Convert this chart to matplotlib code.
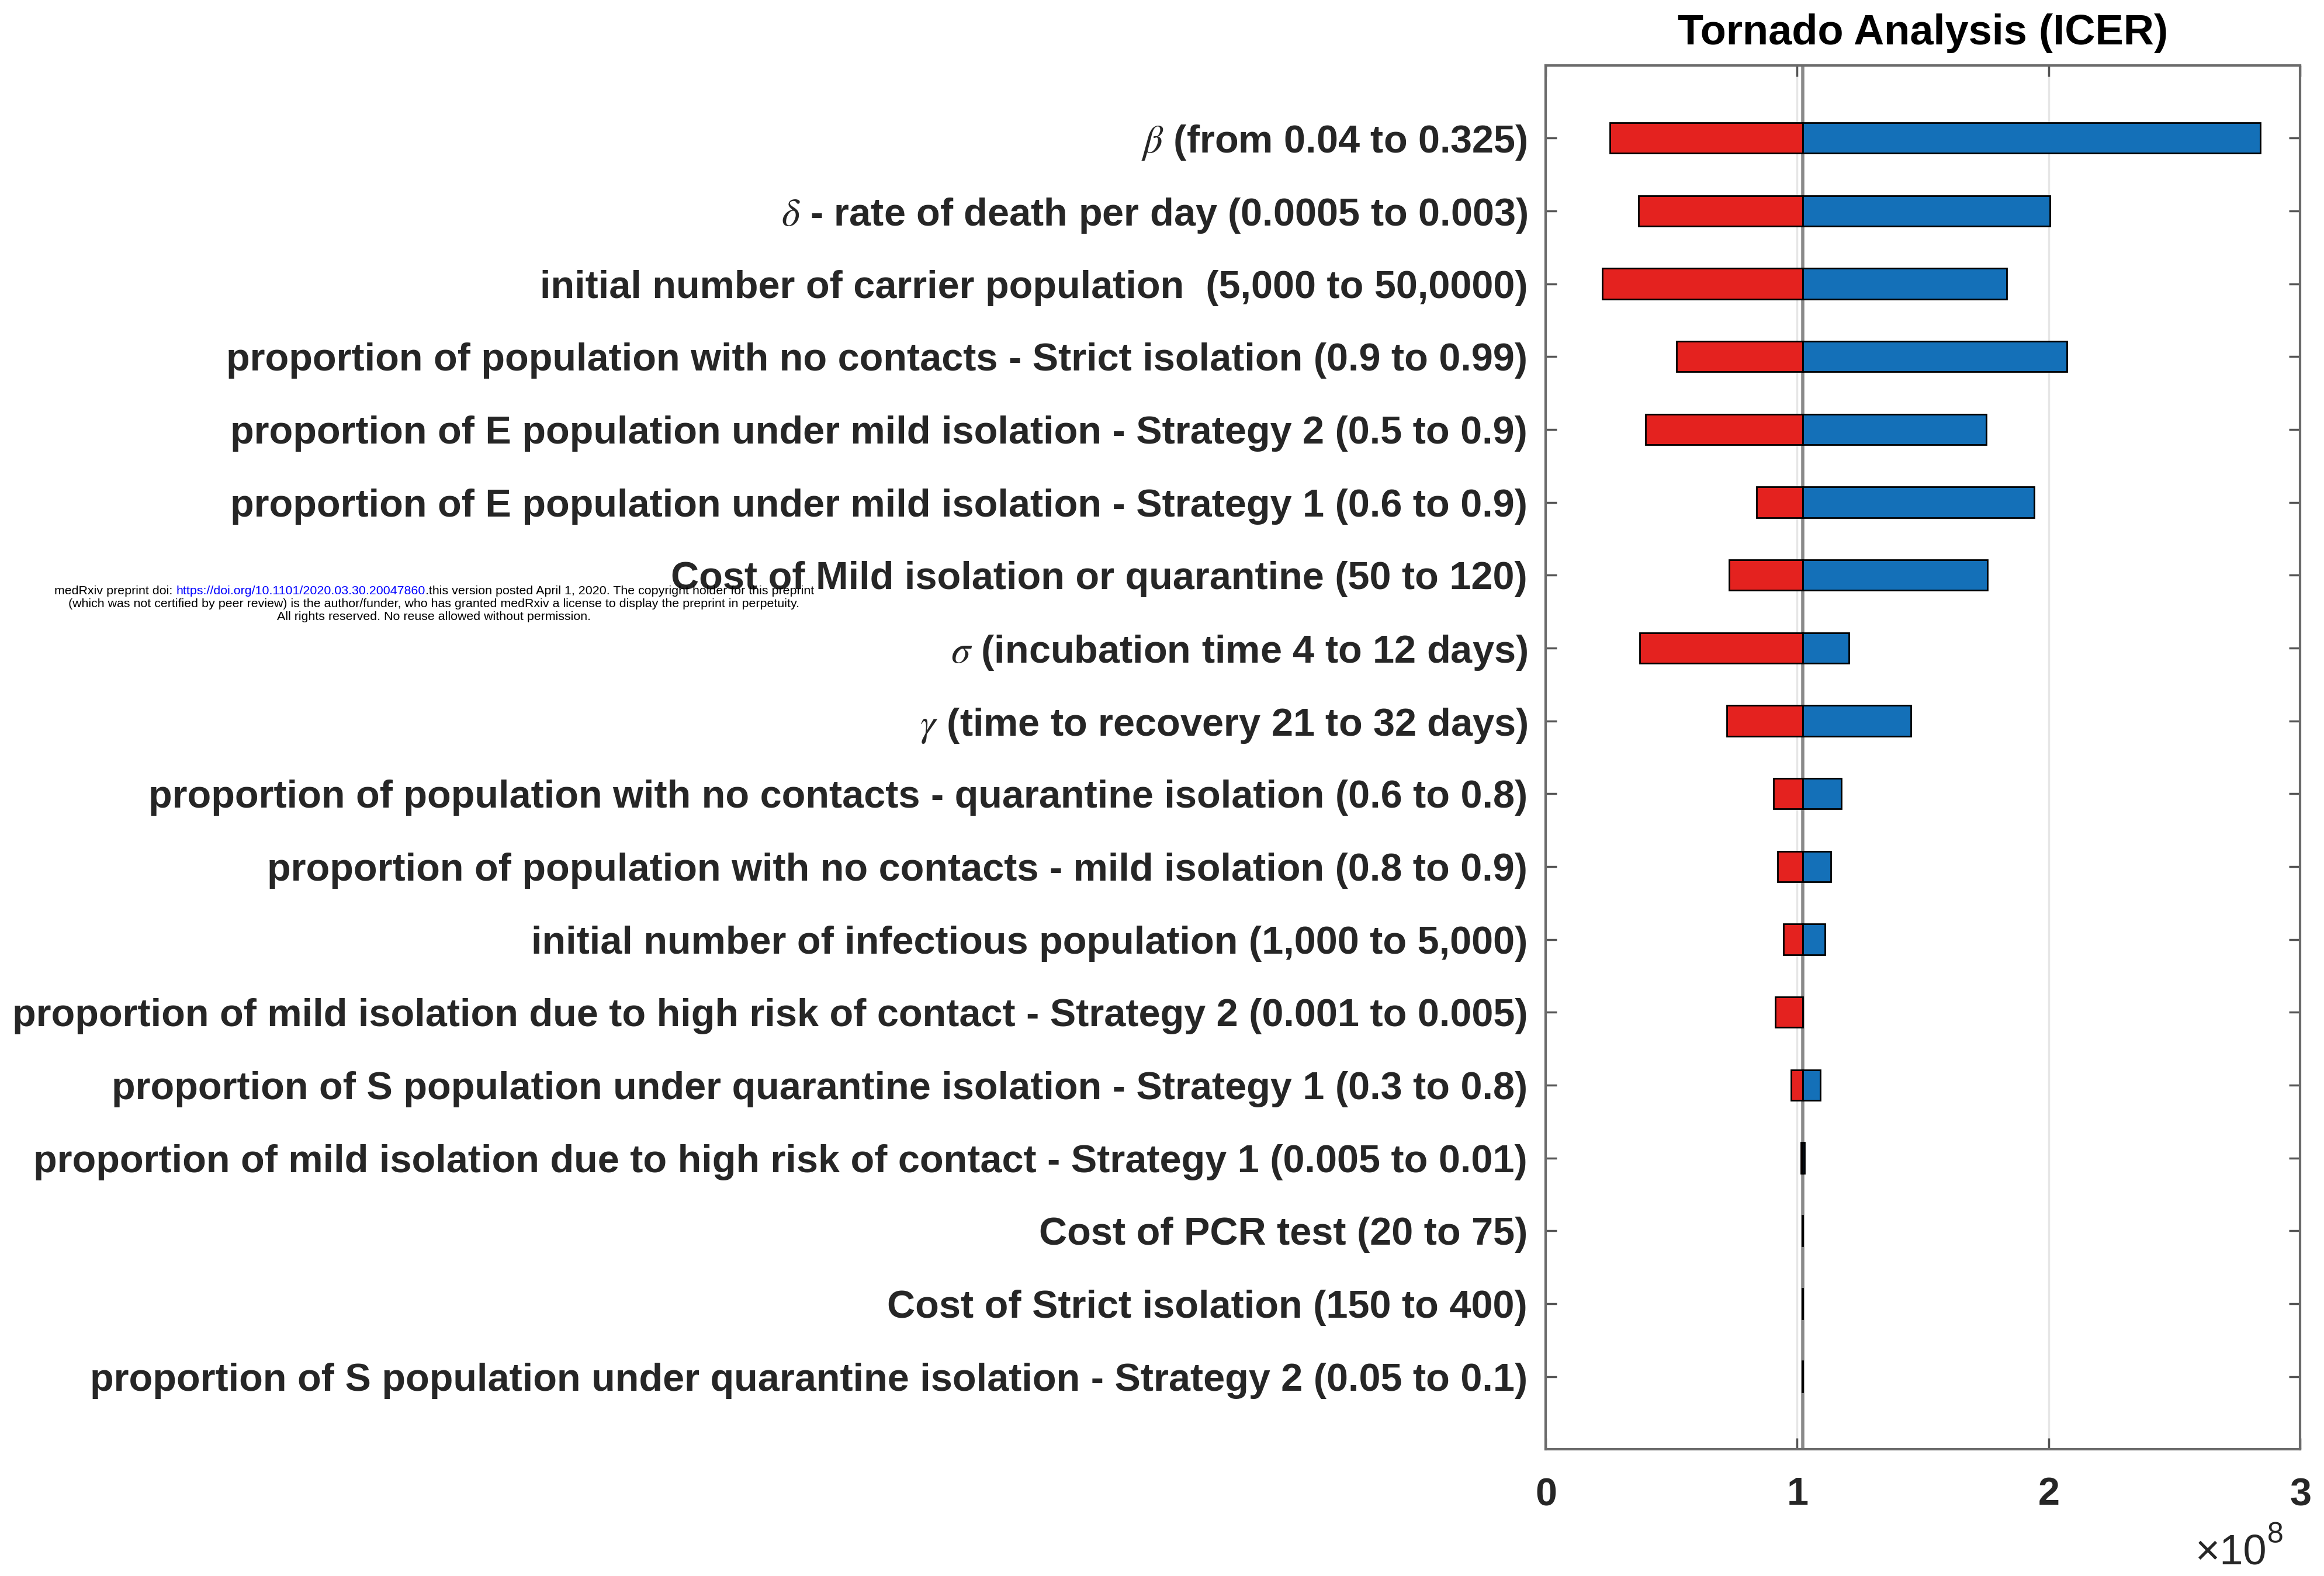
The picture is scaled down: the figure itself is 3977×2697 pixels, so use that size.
import matplotlib
matplotlib.use("Agg")
import matplotlib.pyplot as plt
from matplotlib.ticker import ScalarFormatter

plt.rcParams['font.family'] = ['Liberation Sans', 'DejaVu Sans']
plt.rcParams['mathtext.fontset'] = 'stix'

# Parameters (top to bottom) and the ICER range each one produces
params = [
    r'$\beta$ (from 0.04 to 0.325)',
    r'$\delta$ - rate of death per day (0.0005 to 0.003)',
    'initial number of carrier population  (5,000 to 50,0000)',
    'proportion of population with no contacts - Strict isolation (0.9 to 0.99)',
    'proportion of E population under mild isolation - Strategy 2 (0.5 to 0.9)',
    'proportion of E population under mild isolation - Strategy 1 (0.6 to 0.9)',
    'Cost of Mild isolation or quarantine (50 to 120)',
    r'$\sigma$ (incubation time 4 to 12 days)',
    r'$\gamma$ (time to recovery 21 to 32 days)',
    'proportion of population with no contacts - quarantine isolation (0.6 to 0.8)',
    'proportion of population with no contacts - mild isolation (0.8 to 0.9)',
    'initial number of infectious population (1,000 to 5,000)',
    'proportion of mild isolation due to high risk of contact - Strategy 2 (0.001 to 0.005)',
    'proportion of S population under quarantine isolation - Strategy 1 (0.3 to 0.8)',
    'proportion of mild isolation due to high risk of contact - Strategy 1 (0.005 to 0.01)',
    'Cost of PCR test (20 to 75)',
    'Cost of Strict isolation (150 to 400)',
    'proportion of S population under quarantine isolation - Strategy 2 (0.05 to 0.1)',
]
icer_base = 1.022e8
icer_low = [0.257e8, 0.370e8, 0.225e8, 0.522e8, 0.399e8, 0.840e8, 0.730e8, 0.374e8, 0.722e8,
            0.906e8, 0.922e8, 0.947e8, 0.914e8, 0.977e8, 1.016e8, 1.020e8, 1.020e8, 1.020e8]
icer_high = [2.842e8, 2.005e8, 1.833e8, 2.074e8, 1.752e8, 1.944e8, 1.758e8, 1.206e8, 1.453e8,
             1.177e8, 1.135e8, 1.111e8, 1.022e8, 1.092e8, 1.030e8, 1.022e8, 1.022e8, 1.022e8]

red = '#E4221F'
blue = '#1470B8'

fig = plt.figure(figsize=(39.77, 26.97), dpi=100)
ax = fig.add_axes([0.665, 0.0804, 0.3247, 0.8782])

ypos = list(range(1, len(params) + 1))
ax.barh(ypos, [icer_base - v for v in icer_low], left=icer_low, height=0.42,
        color=red, edgecolor='black', linewidth=2, zorder=3)
ax.barh(ypos, [v - icer_base for v in icer_high], left=icer_base, height=0.42,
        color=blue, edgecolor='black', linewidth=2, zorder=3)

# base case line
ax.axvline(icer_base, color='#8a8a8a', linewidth=4, zorder=2)

ax.set_xlim(0, 3e8)
ax.set_ylim(19, 0)
ax.set_xticks([0, 1e8, 2e8, 3e8])
ax.set_yticks(ypos)
ax.set_yticklabels(params)

# tick labels in units of 1e8, exponent written separately at the lower right
fmt = ScalarFormatter(useMathText=True)
fmt.set_powerlimits((0, 0))
ax.xaxis.set_major_formatter(fmt)
ax.xaxis.get_offset_text().set_visible(False)
xt = fig.text(0.9755, 0.002, '\u00d710', fontsize=52, color='#262626', ha='right', va='bottom')
ax.annotate('8', xy=(1, 0.62), xycoords=xt, fontsize=36, color='#262626',
            ha='left', va='bottom')

ax.grid(axis='x', color='#e6e6e6', linewidth=2.5, zorder=0)
ax.set_axisbelow(True)

ax.tick_params(axis='both', direction='in', top=True, right=True, length=14,
               width=2.5, color='#555555', labelcolor='#262626', labelsize=48)
ax.tick_params(axis='x', pad=34)
ax.tick_params(axis='y', pad=22)
for lab in ax.get_yticklabels() + ax.get_xticklabels():
    lab.set_fontweight('bold')
for sp in ax.spines.values():
    sp.set_color('#6b6b6b')
    sp.set_linewidth(3)

ax.set_title('Tornado Analysis (ICER)', fontsize=52, fontweight='bold', pad=26)

# preprint notice
wm = 15.4
t1 = fig.text(0.0235, 0.6215, 'medRxiv preprint doi: ', fontsize=wm, ha='left', va='bottom')
t2 = ax.annotate('https://doi.org/10.1101/2020.03.30.20047860', xy=(1, 0), xycoords=t1,
                 fontsize=wm, color='blue', ha='left', va='bottom')
ax.annotate('.this version posted April 1, 2020. The copyright holder for this preprint',
            xy=(1, 0), xycoords=t2, fontsize=wm, ha='left', va='bottom')
fig.text(0.1868, 0.6133, '(which was not certified by peer review) is the author/funder, who has granted '
         'medRxiv a license to display the preprint in perpetuity.', fontsize=wm, ha='center', va='bottom')
fig.text(0.1868, 0.6052, 'All rights reserved. No reuse allowed without permission.',
         fontsize=wm, ha='center', va='bottom')

fig.savefig('out.png', dpi=100)
